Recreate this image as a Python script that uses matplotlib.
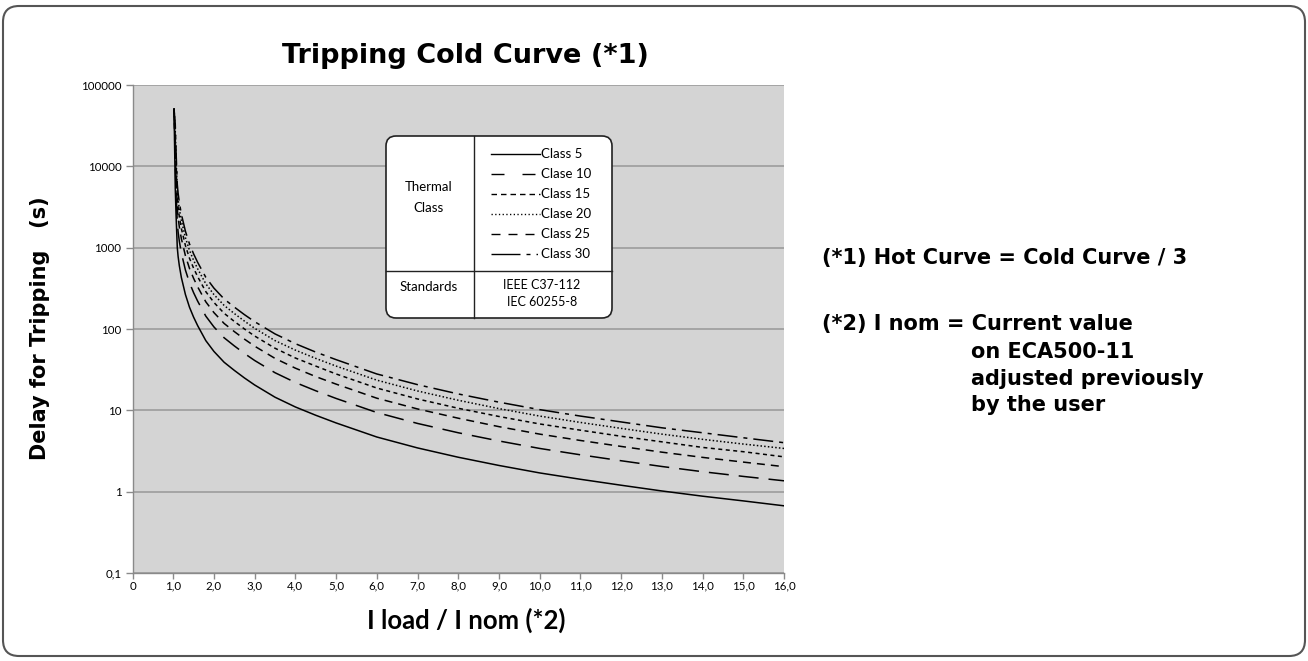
import matplotlib
matplotlib.use("Agg")
import matplotlib.pyplot as plt
from matplotlib.patches import FancyBboxPatch
from matplotlib.ticker import FixedLocator, FixedFormatter, NullLocator

plt.rcParams['lines.scale_dashes'] = False

# ---------------- data ----------------
x_ratio = [1.02, 1.05, 1.07, 1.1, 1.12, 1.15, 1.2, 1.3, 1.4, 1.5, 1.6, 1.8, 2.0, 2.25, 2.5, 2.75,
           3.0, 3.5, 4.0, 4.5, 5.0, 6.0, 7.0, 8.0, 9.0, 10.0, 11.0, 12.0, 13.0, 14.0, 15.0, 16.0]
class5 = [51000, 5500, 2500, 1000, 780, 600, 430, 265, 185, 140, 110, 72, 53, 39, 31, 25,
          20.5, 14.5, 11, 8.7, 7.0, 4.7, 3.45, 2.65, 2.1, 1.7, 1.42, 1.2, 1.02, 0.88, 0.77, 0.67]
class10 = [51000, 11000, 5000, 2000, 1560, 1200, 860, 530, 370, 280, 220, 144, 106, 78, 62, 50,
           41, 29, 22, 17.4, 14, 9.4, 6.9, 5.3, 4.2, 3.4, 2.84, 2.4, 2.04, 1.76, 1.54, 1.36]
class15 = [51000, 16500, 7500, 3000, 2340, 1800, 1290, 795, 555, 420, 330, 216, 159, 117, 93, 75,
           61.5, 43.5, 33, 26, 21, 14.1, 10.4, 8.0, 6.3, 5.1, 4.26, 3.6, 3.06, 2.64, 2.31, 2.03]
class20 = [51000, 22000, 10000, 4000, 3120, 2400, 1720, 1060, 740, 560, 440, 288, 212, 156, 124, 100,
           82, 58, 44, 35, 28, 18.8, 13.8, 10.6, 8.4, 6.8, 5.7, 4.8, 4.1, 3.5, 3.1, 2.68]
class25 = [51000, 27500, 12500, 5000, 3900, 3000, 2150, 1325, 925, 700, 550, 360, 265, 195, 155, 125,
           102, 72, 55, 43.5, 35, 23.5, 17.3, 13.3, 10.5, 8.5, 7.1, 6.0, 5.1, 4.4, 3.85, 3.4]
class30 = [51000, 33000, 15000, 6000, 4680, 3600, 2580, 1590, 1110, 840, 660, 432, 318, 234, 186, 150,
           123, 87, 66, 52, 42, 28, 20.7, 15.9, 12.6, 10.2, 8.5, 7.2, 6.1, 5.3, 4.6, 4.0]

x_ticks = list(range(0, 17))
x_tick_labels = ["0"] + [f"{v},0" for v in range(1, 17)]
y_ticks = [0.1, 1, 10, 100, 1000, 10000, 100000]
y_tick_labels = ["0,1", "1", "10", "100", "1000", "10000", "100000"]

legend_labels = ["Class 5", "Clase 10", "Class 15", "Clase 20", "Class 25", "Class 30"]
standards = ["IEEE C37-112", "IEC 60255-8"]

title = "Tripping Cold Curve (*1)"
ylabel = "Delay for Tripping   (s)"
xlabel = "I load / I nom (*2)"
note1 = "(*1) Hot Curve = Cold Curve / 3"
note2 = ["(*2) I nom = Current value", "on ECA500-11", "adjusted previously", "by the user"]

# ---------------- figure ----------------
W, H = 1308, 661
fig = plt.figure(figsize=(W / 100, H / 100), dpi=100)
fig.patch.set_facecolor("white")

def px(v):  # px -> points
    return v * 0.72

L, R, T, B = 132.5, 784, 85, 573
ax = fig.add_axes([L / W, 1 - B / H, (R - L) / W, (B - T) / H])
ax.set_facecolor("#d4d4d4")
ax.set_yscale("log")
ax.set_xlim(0, 16)
ax.set_ylim(0.1, 100000)

styles = [
    dict(linestyle="-"),
    dict(linestyle=(0, (px(20), px(10)))),
    dict(linestyle=(0, (px(8), px(6)))),
    dict(linestyle=(0, (px(4), px(3.5)))),
    dict(linestyle=(0, (px(1.5), px(2.2)))),
    dict(linestyle=(0, (px(20), px(6), px(4), px(6)))),
]
series = [class5, class10, class15, class20, class25, class30]
for s, st in zip(series, styles):
    ax.plot(x_ratio, s, color="black", lw=1.1, **st, zorder=3)

ax.yaxis.set_major_locator(FixedLocator(y_ticks))
ax.yaxis.set_major_formatter(FixedFormatter(y_tick_labels))
ax.yaxis.set_minor_locator(NullLocator())
ax.set_xticks(x_ticks)
ax.set_xticklabels(x_tick_labels)
ax.grid(axis="y", which="major", color="#9c9c9c", lw=1.2, zorder=1)
ax.set_axisbelow(True)
for sp in ["top", "right"]:
    ax.spines[sp].set_visible(False)
for sp in ["left", "bottom"]:
    ax.spines[sp].set_color("#8a8a8a")
    ax.spines[sp].set_linewidth(1.0)
ax.tick_params(axis="both", which="major", direction="out", length=5, width=1.0,
               color="#8a8a8a", labelsize=8.3, pad=3)
ax.tick_params(axis="x", length=4, pad=1.5)
for lab in ax.get_xticklabels() + ax.get_yticklabels():
    lab.set_fontfamily("Lato")

# ---------------- overlay (pixel coordinates, y downward) ----------------
ov = fig.add_axes([0, 0, 1, 1], zorder=5)
ov.set_xlim(0, W)
ov.set_ylim(H, 0)
ov.axis("off")
ov.patch.set_alpha(0)

# outer rounded frame
ov.add_patch(FancyBboxPatch((3, 6), 1302, 650, boxstyle="round,pad=0,rounding_size=16",
                            fill=False, ec="#555555", lw=1.5))

# titles / labels
ov.text(465, 56, title, ha="center", va="center", fontsize=19.5, fontweight="bold",
        family="DejaVu Sans")
ov.text(40, 328, ylabel, ha="center", va="center", rotation=90, fontsize=15,
        fontweight="bold", family="DejaVu Sans")
ov.text(466, 620, xlabel, ha="center", va="center", fontsize=18.5, fontweight="bold",
        family="Lato")

ov.text(822, 258, note1, ha="left", va="center", fontsize=15, fontweight="bold",
        family="DejaVu Sans")
ov.text(822, 324, note2[0], ha="left", va="center", fontsize=15, fontweight="bold",
        family="DejaVu Sans")
for txt, yy in zip(note2[1:], [352, 379, 405]):
    ov.text(971, yy, txt, ha="left", va="center", fontsize=15, fontweight="bold",
            family="DejaVu Sans")

# legend table
bx0, bx1, by0, by1 = 386, 612, 136, 318
ov.add_patch(FancyBboxPatch((bx0, by0), bx1 - bx0, by1 - by0,
                            boxstyle="round,pad=0,rounding_size=10",
                            fc="white", ec="#222222", lw=1.2))
ov.plot([474, 474], [by0, by1], color="#222222", lw=1.0)
ov.plot([bx0, bx1], [271, 271], color="#222222", lw=1.0)
ov.text(429, 187, "Thermal", ha="center", va="center", fontsize=9.5, family="Lato")
ov.text(429, 208, "Class", ha="center", va="center", fontsize=9.5, family="Lato")
ov.text(429, 287, "Standards", ha="center", va="center", fontsize=9.5, family="Lato")
ov.text(542, 285, standards[0], ha="center", va="center", fontsize=9, family="Lato")
ov.text(542, 302, standards[1], ha="center", va="center", fontsize=9, family="Lato")

leg_styles = [
    dict(linestyle="-"),
    dict(linestyle=(0, (px(13), px(18)))),
    dict(linestyle=(0, (px(5.5), px(4)))),
    dict(linestyle=(0, (px(1.3), px(2.4)))),
    dict(linestyle=(0, (px(9), px(8)))),
    dict(linestyle=(0, (px(29), px(6), px(4), px(6), px(1.5), px(3)))),
]
rows = [154, 174, 194, 214, 234, 254]
for lab, st, yy in zip(legend_labels, leg_styles, rows):
    ov.plot([491, 540], [yy, yy], color="black", lw=1.0, **st)
    ov.text(541, yy, lab, ha="left", va="center", fontsize=9.5, family="Lato")

fig.savefig("out.png", dpi=100)
